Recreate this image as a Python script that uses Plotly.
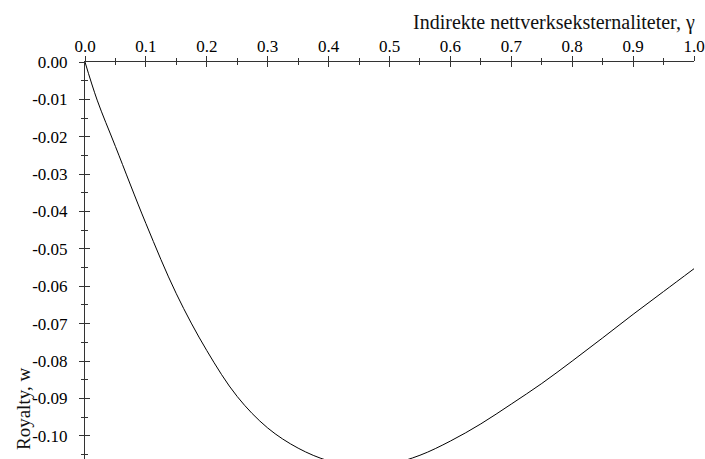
import plotly.graph_objects as go

gamma = [0.0, 0.02, 0.05, 0.10, 0.15, 0.20, 0.25, 0.30, 0.35, 0.40, 0.45, 0.50,
         0.55, 0.60, 0.65, 0.70, 0.75, 0.80, 0.85, 0.90, 0.95, 1.0]
royalty = [0.0, -0.0102, -0.0226, -0.0432, -0.0620, -0.0772, -0.0895, -0.0979,
           -0.1033, -0.1067, -0.1082, -0.1076, -0.1052, -0.1014, -0.0968, -0.0915,
           -0.0860, -0.0800, -0.0738, -0.0675, -0.0614, -0.0553]

x_ticks = [0.0, 0.1, 0.2, 0.3, 0.4, 0.5, 0.6, 0.7, 0.8, 0.9, 1.0]
x_ticklabels = ["0.0", "0.1", "0.2", "0.3", "0.4", "0.5", "0.6", "0.7", "0.8", "0.9", "1.0"]
y_ticks = [0.0, -0.01, -0.02, -0.03, -0.04, -0.05, -0.06, -0.07, -0.08, -0.09, -0.10]
y_ticklabels = ["0.00", "-0.01", "-0.02", "-0.03", "-0.04", "-0.05", "-0.06",
                "-0.07", "-0.08", "-0.09", "-0.10"]

x_title = "Indirekte nettverkseksternaliteter, γ"
y_title = "Royalty, w"

FONT = "Liberation Serif"
AX = "#333333"

fig = go.Figure()
fig.add_trace(go.Scatter(x=gamma, y=royalty, mode="lines",
                         line=dict(color="black", width=1, shape="spline", smoothing=1.0),
                         showlegend=False, hoverinfo="skip"))
fig.add_trace(go.Scatter(x=[None], y=[None], xaxis="x2", yaxis="y2", showlegend=False))

xr = [0, 1]
yr = [-0.1062, 0]

common = dict(showgrid=False, zeroline=False, automargin=False)

fig.update_layout(
    width=705, height=459,
    margin=dict(l=85, r=11, t=62, b=0, autoexpand=False),
    plot_bgcolor="white", paper_bgcolor="white",
    font=dict(family=FONT, size=17, color="black"),
    xaxis=dict(range=xr, side="top", anchor="y", **common,
               showline=True, linecolor=AX, linewidth=1,
               tickmode="array", tickvals=x_ticks, ticktext=x_ticklabels,
               ticks="outside", ticklen=5, tickcolor=AX, tickwidth=1,
               minor=dict(ticks="outside", ticklen=3, dtick=0.05, tick0=0, tickcolor=AX, showgrid=False),
               ticklabelstandoff=-3, ticklabeloverflow="allow",
               tickfont=dict(family=FONT, size=17, color="black")),
    yaxis=dict(range=yr, side="left", anchor="x", **common,
               showline=True, linecolor=AX, linewidth=1,
               tickmode="array", tickvals=y_ticks, ticktext=y_ticklabels,
               ticks="outside", ticklen=5, tickcolor=AX, tickwidth=1,
               minor=dict(ticks="outside", ticklen=3, dtick=0.005, tick0=0, tickcolor=AX, showgrid=False),
               ticklabelstandoff=8, ticklabeloverflow="allow",
               tickfont=dict(family=FONT, size=17, color="black")),
    xaxis2=dict(range=xr, side="top", overlaying="x", anchor="y", **common,
                showline=False, showticklabels=False,
                tickmode="array", tickvals=x_ticks,
                ticks="inside", ticklen=5, tickcolor=AX, tickwidth=1,
                minor=dict(ticks="inside", ticklen=3, dtick=0.05, tick0=0, tickcolor=AX, showgrid=False)),
    yaxis2=dict(range=yr, side="left", overlaying="y", anchor="x", **common,
                showline=False, showticklabels=False,
                tickmode="array", tickvals=y_ticks,
                ticks="inside", ticklen=5, tickcolor=AX, tickwidth=1,
                minor=dict(ticks="inside", ticklen=3, dtick=0.005, tick0=0, tickcolor=AX, showgrid=False)),
    annotations=[
        dict(text=x_title, xref="paper", yref="paper", x=1.0, y=1.0, yshift=40, xshift=3,
             xanchor="right", yanchor="middle", showarrow=False,
             font=dict(family=FONT, size=20, color="#111111")),
        dict(text=y_title, xref="paper", yref="paper", x=0, y=0, xshift=-62, yshift=7,
             xanchor="center", yanchor="bottom", textangle=-90, showarrow=False,
             font=dict(family=FONT, size=19, color="#111111")),
    ],
)

fig.write_html("out.html", config={"displayModeBar": False},
               post_script="document.body.style.margin='0';document.body.style.overflow='hidden';")
